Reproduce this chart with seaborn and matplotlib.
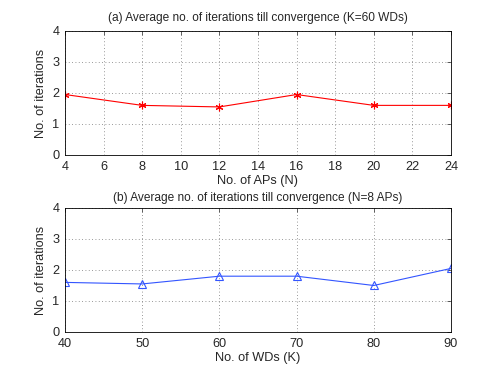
import numpy as np
import pandas as pd
import matplotlib
matplotlib.use('Agg')
import matplotlib.pyplot as plt
import seaborn as sns

# (a) K = 60 WDs
num_aps = [4, 8, 12, 16, 20, 24]
iters_aps = [1.95, 1.6, 1.55, 1.95, 1.6, 1.6]

# (b) N = 8 APs
num_wds = [40, 50, 60, 70, 80, 90]
iters_wds = [1.6, 1.55, 1.8, 1.8, 1.5, 2.05]

sns.set_style('white')
plt.rcParams['font.family'] = ['Liberation Sans', 'DejaVu Sans']
plt.rcParams['xtick.direction'] = 'in'
plt.rcParams['ytick.direction'] = 'in'

fig = plt.figure(figsize=(4.98, 3.74), dpi=100)
ax1 = fig.add_axes([0.1305, 0.5856, 0.775, 0.3316])
ax2 = fig.add_axes([0.1305, 0.1123, 0.775, 0.3316])

df_a = pd.DataFrame({'N': num_aps, 'it': iters_aps})
df_b = pd.DataFrame({'K': num_wds, 'it': iters_wds})

sns.lineplot(data=df_a, x='N', y='it', ax=ax1, color='red', lw=0.8,
             marker=(6, 2, 0), markersize=5.5, markeredgecolor='red', markeredgewidth=0.8)
sns.lineplot(data=df_b, x='K', y='it', ax=ax2, color='#3355ff', lw=0.8,
             marker='^', markersize=6, markerfacecolor='none',
             markeredgecolor='#3355ff', markeredgewidth=0.8)

ax1.set_xlim(4, 24)
ax1.set_xticks(range(4, 25, 2))
ax1.set_xlabel('No. of APs (N)', fontsize=9.2, labelpad=2)
ax1.set_title('(a) Average no. of iterations till convergence (K=60 WDs)', fontsize=8.6, pad=7)

ax2.set_xlim(40, 90)
ax2.set_xticks(range(40, 91, 10))
ax2.set_xlabel('No. of WDs (K)', fontsize=9.2, labelpad=2)
ax2.set_title('(b) Average no. of iterations till convergence (N=8 APs)', fontsize=8.6, pad=5)

for ax in (ax1, ax2):
    ax.set_ylim(0, 4)
    ax.set_yticks(range(0, 5))
    ax.set_ylabel('No. of iterations', fontsize=9.2, labelpad=4)
    ax.grid(True, linestyle=(0, (1, 3)), color='#777777', linewidth=0.6)
    ax.tick_params(labelsize=9.2, length=3, width=0.5, top=True, right=True)
    ax.tick_params(axis='x', pad=4)
    ax.tick_params(axis='y', pad=4)
    for s in ax.spines.values():
        s.set_color('black')
        s.set_linewidth(0.6)

fig.savefig('out.png', dpi=100)
